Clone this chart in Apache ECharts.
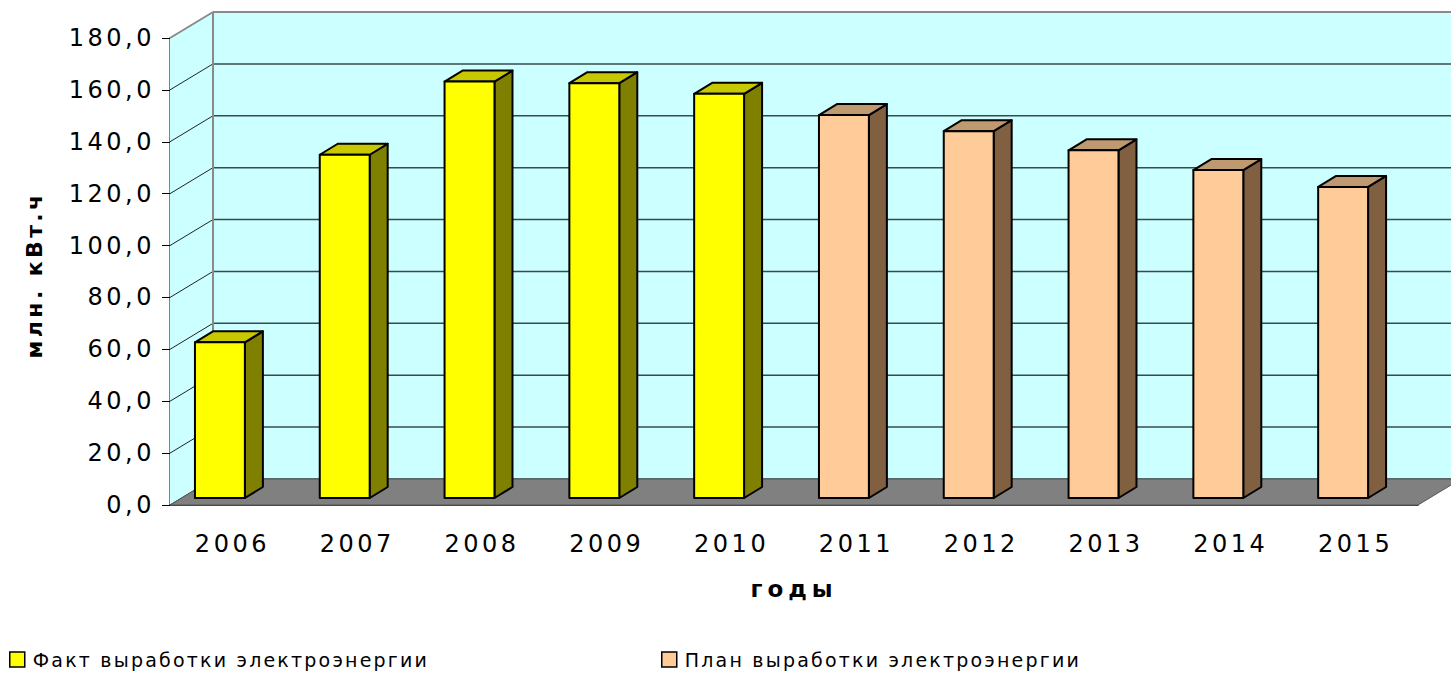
<!DOCTYPE html>
<html>
<head>
<meta charset="utf-8">
<script src="https://cdn.jsdelivr.net/npm/echarts@6/dist/echarts.min.js"></script>
<style>
  html, body { margin: 0; padding: 0; background: #fff; }
  #chart { width: 1451px; height: 674px; }
  /* old excel chart text is spaced out, svg renderer lets css do it */
  #chart text { letter-spacing: 3.5px; }
  #chart text[style*="19px"] { letter-spacing: 2.2px; }
  #chart text[style*="22px"] { letter-spacing: 3.4px; }
  #chart text[style*="23px"] { letter-spacing: 5px; }
</style>
</head>
<body>
<div id="chart"></div>
<script>
const years = ['2006', '2007', '2008', '2009', '2010', '2011', '2012', '2013', '2014', '2015'];
const factValues = [60.0, 132.3, 160.5, 159.9, 155.8];
const planValues = [147.6, 141.4, 134.0, 126.4, 119.9];
const yTicks = [0, 20, 40, 60, 80, 100, 120, 140, 160, 180];

const factName = 'Факт выработки электроэнергии';
const planName = 'План выработки электроэнергии';

// fake 3d: depth of the walls and of the boxes, in px
const WALL_DX = 43;
const WALL_DY = -26;
const BAR_DX = 18;
const BAR_DY = -11;
const BAR_INSET = 7;

const FONT = 'DejaVu Sans';

function renderWalls(params, api) {
  const bw = api.size([1, 0])[0];
  const x0 = api.coord([0, 0])[0] - bw / 2;
  const x1 = api.coord([years.length - 1, 0])[0] + bw / 2;
  const y0 = api.coord([0, 0])[1];
  const yTop = api.coord([0, yTicks[yTicks.length - 1]])[1];
  const bx0 = x0 + WALL_DX;
  const farRight = x1 + WALL_DX + 60;

  const children = [
    {
      type: 'rect',
      shape: { x: bx0, y: yTop + WALL_DY, width: farRight - bx0, height: y0 - yTop },
      style: { fill: '#CCFFFF' },
    },
    {
      type: 'polygon',
      shape: { points: [[x0, y0], [x0, yTop], [bx0, yTop + WALL_DY], [bx0, y0 + WALL_DY]] },
      style: { fill: '#CCFFFF' },
    },
  ];

  yTicks.forEach((v) => {
    const y = api.coord([0, v])[1];
    const last = v === yTicks[yTicks.length - 1];
    children.push({
      type: 'line',
      shape: { x1: bx0, y1: y + WALL_DY, x2: farRight, y2: y + WALL_DY },
      style: { stroke: last ? '#8a8a8a' : '#3a4a4a', lineWidth: last ? 2 : 1.5 },
    });
    children.push({
      type: 'line',
      shape: { x1: x0, y1: y, x2: bx0, y2: y + WALL_DY },
      style: { stroke: last ? '#8a8a8a' : '#222', lineWidth: last ? 2 : 1 },
    });
  });

  // back wall left edge
  children.push({
    type: 'line',
    shape: { x1: bx0, y1: yTop + WALL_DY, x2: bx0, y2: y0 + WALL_DY },
    style: { stroke: '#8a8a8a', lineWidth: 2 },
  });
  // floor
  children.push({
    type: 'polygon',
    shape: { points: [[x0, y0], [x1, y0], [x1 + WALL_DX, y0 + WALL_DY], [bx0, y0 + WALL_DY]] },
    style: { fill: '#808080', stroke: '#555', lineWidth: 1 },
  });

  return { type: 'group', children };
}

function boxRenderer(colors) {
  return function (params, api) {
    const bw = api.size([1, 0])[0];
    const top = api.coord([api.value(0), api.value(1)]);
    const base = api.coord([api.value(0), 0]);
    const left = top[0] - bw * 0.3;
    const right = left + bw * 0.4;
    const yTop = top[1] - BAR_INSET;
    const yBot = base[1] - BAR_INSET;
    const edge = { stroke: '#000', lineWidth: 2, lineJoin: 'round' };
    return {
      type: 'group',
      children: [
        {
          type: 'polygon',
          shape: { points: [[right, yBot], [right + BAR_DX, yBot + BAR_DY], [right + BAR_DX, yTop + BAR_DY], [right, yTop]] },
          style: Object.assign({ fill: colors.side }, edge),
        },
        {
          type: 'polygon',
          shape: { points: [[left, yTop], [right, yTop], [right + BAR_DX, yTop + BAR_DY], [left + BAR_DX, yTop + BAR_DY]] },
          style: Object.assign({ fill: colors.top }, edge),
        },
        {
          type: 'rect',
          shape: { x: left, y: yTop, width: right - left, height: yBot - yTop },
          style: Object.assign({ fill: colors.front }, edge),
        },
      ],
    };
  };
}

const chart = echarts.init(document.getElementById('chart'), null, { renderer: 'svg' });

const legendBase = {
  top: 650,
  padding: 0,
  icon: 'rect',
  itemWidth: 15,
  itemHeight: 15,
  itemStyle: { borderColor: '#000', borderWidth: 1.5 },
  textStyle: { fontFamily: FONT, fontSize: 19, color: '#000', padding: [0, 0, 0, 3] },
};

chart.setOption({
  animation: false,
  backgroundColor: '#fff',
  grid: {
    left: 170,
    right: 33,
    top: 38,
    bottom: 169,
  },
  legend: [
    Object.assign({ left: 9, data: [factName] }, legendBase),
    Object.assign({ left: 661, data: [planName] }, legendBase),
  ],
  xAxis: {
    type: 'category',
    data: years,
    name: 'годы',
    nameLocation: 'middle',
    nameGap: 72,
    nameTextStyle: { fontFamily: FONT, fontSize: 23, fontWeight: 'bold', color: '#000' },
    axisLine: { lineStyle: { color: '#000', width: 1.5 } },
    axisTick: { length: 8, lineStyle: { color: '#000' } },
    axisLabel: { fontFamily: FONT, fontSize: 24, color: '#000', margin: 27 },
    splitLine: { show: false },
  },
  yAxis: {
    type: 'value',
    min: 0,
    max: 180,
    interval: 20,
    name: 'млн. кВт.ч',
    nameLocation: 'middle',
    nameGap: 125,
    nameTextStyle: { fontFamily: FONT, fontSize: 22, fontWeight: 'bold', color: '#000', padding: [0, 7, 0, 0] },
    axisLine: { show: true, lineStyle: { color: '#808080', width: 2 } },
    axisTick: { show: true, length: 8, lineStyle: { color: '#000' } },
    axisLabel: {
      fontFamily: FONT,
      fontSize: 24,
      color: '#000',
      margin: 15,
      formatter: (v) => v.toFixed(1).replace('.', ','),
    },
    splitLine: { show: false },
  },
  series: [
    {
      name: 'walls',
      type: 'custom',
      renderItem: renderWalls,
      data: [[0, 0]],
      silent: true,
      z: 1,
    },
    {
      name: factName,
      type: 'custom',
      renderItem: boxRenderer({ front: '#FFFF00', side: '#808000', top: '#C8C800' }),
      itemStyle: { color: '#FFFF00' },
      data: factValues.map((v, i) => [i, v]),
      z: 3,
    },
    {
      name: planName,
      type: 'custom',
      renderItem: boxRenderer({ front: '#FFCC99', side: '#806040', top: '#BF9970' }),
      itemStyle: { color: '#FFCC99' },
      data: planValues.map((v, i) => [i + factValues.length, v]),
      z: 3,
    },
  ],
});
</script>
</body>
</html>
